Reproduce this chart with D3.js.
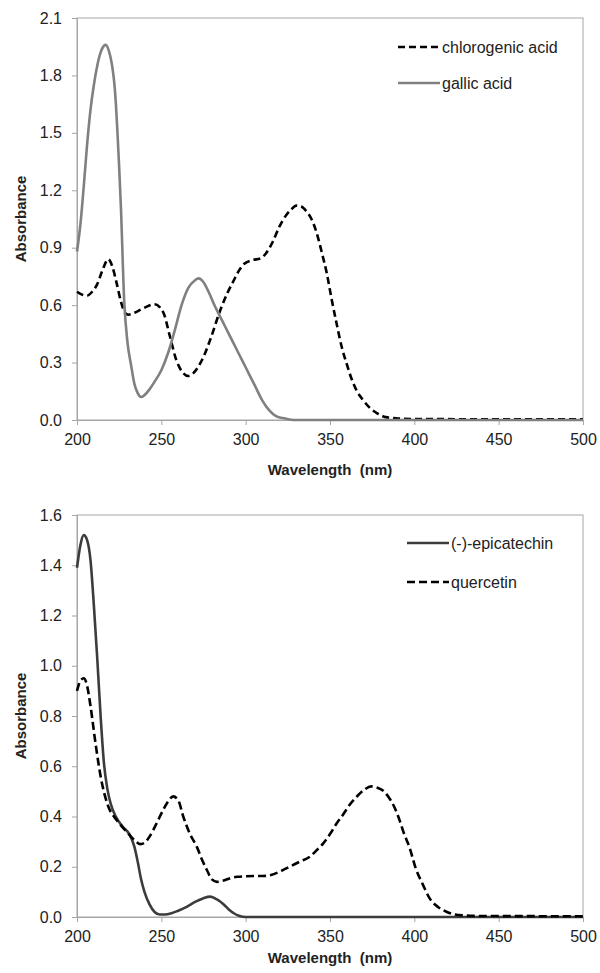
<!DOCTYPE html>
<html>
<head>
<meta charset="utf-8">
<script src="https://cdn.jsdelivr.net/npm/d3@7"></script>
<style>
  body { margin: 0; background: #fff; }
  text { font-family: "Liberation Sans", Arial, sans-serif; }
</style>
</head>
<body>
<div id="plot"></div>
<script>
// ---- data ----
var xTicks = [200, 250, 300, 350, 400, 450, 500];
var yTicksTop = [0, 0.3, 0.6, 0.9, 1.2, 1.5, 1.8, 2.1];
var yTicksBottom = [0, 0.2, 0.4, 0.6, 0.8, 1.0, 1.2, 1.4, 1.6];

var gallicNm = [200, 202, 204, 206, 208, 210, 212, 214, 216, 217, 218, 219, 220, 221, 222, 223, 224, 225, 226, 228, 230, 232, 234, 236, 238, 240, 243, 246, 250, 254, 258, 262, 266, 270, 272, 275, 278, 282, 286, 290, 294, 298, 302, 306, 310, 314, 318, 322, 326, 330, 400, 500];
var gallicAbs = [0.88, 1.02, 1.22, 1.44, 1.62, 1.75, 1.85, 1.92, 1.955, 1.96, 1.95, 1.925, 1.89, 1.84, 1.77, 1.66, 1.50, 1.32, 1.12, 0.62, 0.40, 0.29, 0.19, 0.14, 0.12, 0.13, 0.16, 0.20, 0.26, 0.35, 0.47, 0.60, 0.69, 0.73, 0.74, 0.72, 0.67, 0.59, 0.52, 0.45, 0.38, 0.31, 0.24, 0.17, 0.10, 0.05, 0.02, 0.01, 0.003, 0, 0, 0];

var chloroNm = [200, 203, 206, 209, 212, 215, 218.5, 221, 223.5, 226, 228.5, 230.5, 234, 237.5, 242, 246, 249, 251.5, 255, 259, 262.5, 266, 269, 272, 275, 279, 285, 289, 293, 296, 299, 304, 309, 312, 316, 320, 324, 327, 330, 333, 336, 339, 342, 345, 348, 351, 354, 357, 360, 363, 366, 370, 374, 378, 383, 390, 400, 450, 500];
var chloroAbs = [0.67, 0.655, 0.65, 0.67, 0.71, 0.78, 0.84, 0.80, 0.715, 0.62, 0.56, 0.55, 0.56, 0.575, 0.595, 0.605, 0.59, 0.555, 0.44, 0.31, 0.25, 0.23, 0.245, 0.28, 0.33, 0.42, 0.575, 0.66, 0.73, 0.78, 0.815, 0.835, 0.845, 0.87, 0.93, 1.01, 1.07, 1.10, 1.12, 1.115, 1.09, 1.05, 0.98, 0.88, 0.77, 0.63, 0.50, 0.38, 0.29, 0.21, 0.15, 0.10, 0.06, 0.035, 0.015, 0.008, 0.005, 0.004, 0.004];

var epiNm = [200, 202, 204, 206, 208, 210, 212, 214, 216, 218, 220, 223, 227, 231, 234, 236, 238, 240, 243, 246, 249, 252, 256, 260, 265, 270, 275, 279, 283, 287, 290, 293, 296, 300, 350, 400, 450, 500];
var epiAbs = [1.39, 1.48, 1.52, 1.50, 1.42, 1.24, 1.03, 0.80, 0.61, 0.51, 0.45, 0.40, 0.36, 0.33, 0.28, 0.22, 0.15, 0.10, 0.05, 0.02, 0.01, 0.01, 0.015, 0.025, 0.04, 0.06, 0.075, 0.081, 0.07, 0.05, 0.03, 0.015, 0.005, 0, 0, 0, 0, 0];

var quercNm = [200, 202, 204, 206, 208, 211, 214, 218, 223.5, 228, 232, 235, 237.5, 240, 243, 247, 251, 254, 257, 260, 263, 267, 271, 274, 277, 280, 283, 287, 291, 295, 300, 305, 310, 315, 320, 326, 332, 338, 342, 346, 350, 354, 358, 362, 366, 370, 374.5, 378, 382, 385, 388, 391, 394, 397, 401, 405, 409, 414, 419, 424, 430, 440, 500];
var quercAbs = [0.90, 0.94, 0.95, 0.92, 0.84, 0.69, 0.56, 0.45, 0.386, 0.35, 0.32, 0.30, 0.29, 0.295, 0.32, 0.37, 0.425, 0.46, 0.48, 0.465, 0.40, 0.33, 0.28, 0.23, 0.187, 0.15, 0.14, 0.145, 0.155, 0.16, 0.162, 0.163, 0.163, 0.167, 0.18, 0.20, 0.22, 0.24, 0.265, 0.293, 0.33, 0.373, 0.41, 0.45, 0.48, 0.505, 0.52, 0.515, 0.50, 0.475, 0.44, 0.39, 0.33, 0.28, 0.19, 0.13, 0.075, 0.04, 0.021, 0.01, 0.006, 0.004, 0.003];

var svg = d3.select("#plot")
    .append("svg")
    .attr("width", 600)
    .attr("height", 973);

function zip(xs, ys) {
    return xs.map((x, i) => ({x: x, y: ys[i]}));
}

function drawChart(opt) {
    var left = 77, right = 583;
    var g = svg.append("g");

    var x = d3.scaleLinear().domain([200, 500]).range([left, right]);
    var y = d3.scaleLinear().domain([0, opt.yMax]).range([opt.bottom, opt.top]);

    // plot area frame
    g.append("rect")
        .attr("x", left).attr("y", opt.top)
        .attr("width", right - left).attr("height", opt.bottom - opt.top)
        .attr("fill", "none")
        .attr("stroke", "#a6a6a6");

    // Y axis
    var yAxis = g.append("g")
        .attr("transform", `translate(${left},0)`)
        .call(d3.axisLeft(y).tickValues(opt.yTicks).tickFormat(d3.format(".1f"))
            .tickSize(5).tickSizeOuter(0).tickPadding(10));

    // X axis
    var xAxis = g.append("g")
        .attr("transform", `translate(0,${opt.bottom})`)
        .call(d3.axisBottom(x).tickValues(xTicks).tickSize(5).tickSizeOuter(0).tickPadding(9));

    [yAxis, xAxis].forEach(function(a) {
        a.select(".domain").attr("stroke", "#a6a6a6");
        a.selectAll(".tick line").attr("stroke", "#a6a6a6");
        a.selectAll(".tick text")
            .attr("fill", "#222")
            .style("font-size", "16px")
            .style("font-family", "'Liberation Sans', Arial, sans-serif");
    });

    // axis titles
    g.append("text")
        .attr("x", (left + right) / 2)
        .attr("y", opt.xTitleY)
        .style("text-anchor", "middle")
        .style("font-size", "15px")
        .style("font-weight", "bold")
        .attr("fill", "#222")
        .attr("xml:space", "preserve")
        .text("Wavelength  (nm)");

    g.append("text")
        .attr("transform", `translate(26, ${(opt.top + opt.bottom) / 2}) rotate(-90)`)
        .style("text-anchor", "middle")
        .style("font-size", "15px")
        .style("font-weight", "bold")
        .attr("fill", "#222")
        .text("Absorbance");

    var line = d3.line()
        .x(d => x(d.x))
        .y(d => y(d.y))
        .curve(d3.curveMonotoneX);

    opt.series.forEach(function(s, i) {
        g.append("path")
            .datum(zip(s.nm, s.abs))
            .attr("fill", "none")
            .attr("stroke", s.color)
            .attr("stroke-width", 2.6)
            .attr("stroke-dasharray", s.dash || null)
            .attr("d", line);

        // legend
        var ly = opt.legendY[i];
        g.append("line")
            .attr("x1", opt.legendX).attr("x2", opt.legendX + 42)
            .attr("y1", ly).attr("y2", ly)
            .attr("stroke", s.color)
            .attr("stroke-width", 2.6)
            .attr("stroke-dasharray", s.dash || null);
        g.append("text")
            .attr("x", opt.legendX + 44)
            .attr("y", ly)
            .attr("dy", "0.35em")
            .style("font-size", "16px")
            .attr("fill", "#222")
            .text(s.name);
    });
}

drawChart({
    top: 18, bottom: 420, yMax: 2.1, yTicks: yTicksTop, xTitleY: 475,
    legendX: 398, legendY: [47, 83],
    series: [
        {name: "chlorogenic acid", nm: chloroNm, abs: chloroAbs, color: "#000", dash: "7,4"},
        {name: "gallic acid", nm: gallicNm, abs: gallicAbs, color: "#808080"}
    ]
});

drawChart({
    top: 515, bottom: 917, yMax: 1.6, yTicks: yTicksBottom, xTitleY: 963,
    legendX: 407, legendY: [543, 582],
    series: [
        {name: "(-)-epicatechin", nm: epiNm, abs: epiAbs, color: "#3c3c3c"},
        {name: "quercetin", nm: quercNm, abs: quercAbs, color: "#000", dash: "8,4"}
    ]
});
</script>
</body>
</html>
